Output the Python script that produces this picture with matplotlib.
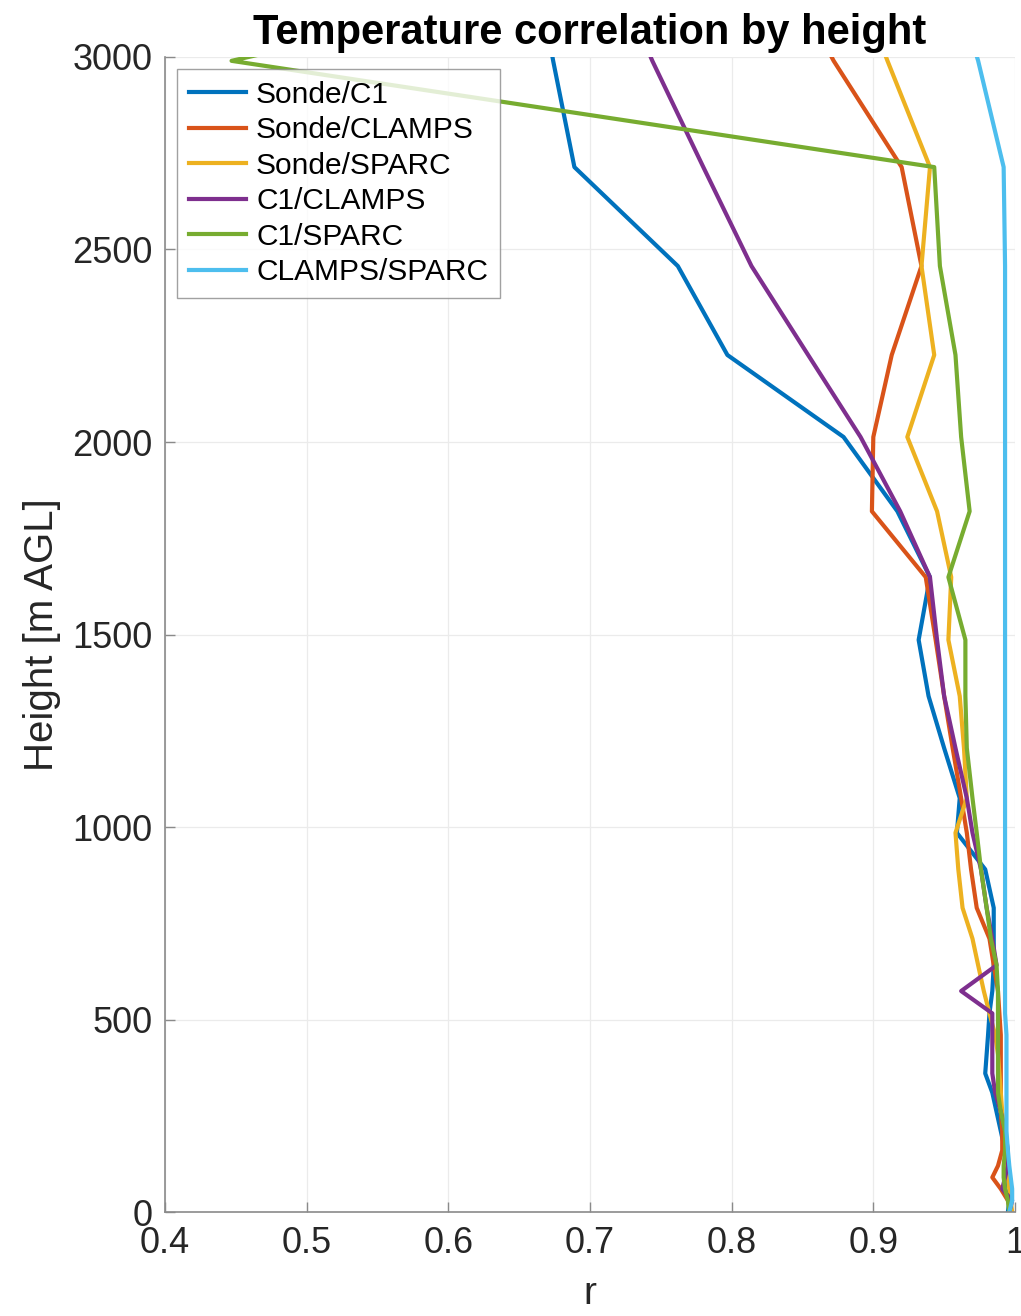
import matplotlib
matplotlib.use('Agg')
import matplotlib.pyplot as plt

plt.rcParams['font.family'] = ['Liberation Sans', 'DejaVu Sans']

# retrieval height grid [m AGL]
heights = [0, 30, 60, 90, 120, 160, 210, 260, 310, 360, 410, 460, 516, 574,
           641, 710, 790, 890, 985, 1075, 1205, 1340, 1486, 1649, 1820, 2013,
           2226, 2457, 2714, 2990, 3285]

# correlation coefficient per pair, one value per height
r_sonde_c1 = [0.995, 0.996, 0.993, 0.994, 0.995, 0.993, 0.990, 0.987, 0.984,
              0.979, 0.980, 0.981, 0.982, 0.984, 0.985, 0.985, 0.985, 0.979,
              0.959, 0.961, 0.950, 0.939, 0.932, 0.940, 0.917, 0.879, 0.797,
              0.762, 0.689, 0.674, 0.660]
r_sonde_clamps = [0.997, 0.995, 0.990, 0.984, 0.988, 0.991, 0.991, 0.990,
                  0.990, 0.990, 0.990, 0.990, 0.989, 0.988, 0.985, 0.982,
                  0.973, 0.969, 0.966, 0.962, 0.956, 0.950, 0.944, 0.937,
                  0.899, 0.900, 0.913, 0.934, 0.920, 0.872, 0.830]
r_sonde_sparc = [0.998, 0.997, 0.996, 0.995, 0.994, 0.994, 0.993, 0.991,
                 0.990, 0.989, 0.988, 0.986, 0.982, 0.978, 0.974, 0.970,
                 0.963, 0.960, 0.958, 0.966, 0.964, 0.961, 0.953, 0.955,
                 0.945, 0.924, 0.943, 0.934, 0.940, 0.910, 0.880]
r_c1_clamps = [0.996, 0.998, 0.991, 0.993, 0.995, 0.995, 0.993, 0.990, 0.986,
               0.984, 0.984, 0.984, 0.984, 0.962, 0.987, 0.984, 0.980, 0.976,
               0.970, 0.966, 0.958, 0.950, 0.945, 0.940, 0.919, 0.891, 0.854,
               0.814, 0.780, 0.744, 0.710]
r_c1_sparc = [0.996, 0.995, 0.993, 0.992, 0.992, 0.993, 0.993, 0.990, 0.988,
              0.988, 0.988, 0.988, 0.988, 0.988, 0.987, 0.983, 0.980, 0.976,
              0.973, 0.970, 0.966, 0.965, 0.965, 0.953, 0.968, 0.962, 0.958,
              0.947, 0.943, 0.447, 0.800]
r_clamps_sparc = [0.996, 0.998, 0.998, 0.997, 0.996, 0.995, 0.994, 0.994,
                  0.994, 0.994, 0.994, 0.994, 0.993, 0.993, 0.993, 0.993,
                  0.993, 0.993, 0.993, 0.993, 0.993, 0.993, 0.993, 0.993,
                  0.993, 0.993, 0.993, 0.993, 0.992, 0.974, 0.950]

pair_names = ['Sonde/C1', 'Sonde/CLAMPS', 'Sonde/SPARC', 'C1/CLAMPS',
              'C1/SPARC', 'CLAMPS/SPARC']
pair_values = [r_sonde_c1, r_sonde_clamps, r_sonde_sparc, r_c1_clamps,
               r_c1_sparc, r_clamps_sparc]
colors = ['#0072BD', '#D95319', '#EDB120', '#7E2F8E', '#77AC30', '#4DBEEE']

x_ticks = [0.4, 0.5, 0.6, 0.7, 0.8, 0.9, 1.0]
x_tick_labels = ['0.4', '0.5', '0.6', '0.7', '0.8', '0.9', '1']
y_ticks = [0, 500, 1000, 1500, 2000, 2500, 3000]

fig = plt.figure(figsize=(10.21, 13.16), dpi=100)
ax = fig.add_axes([0.1616, 0.079, 0.8325, 0.8777])

for name, values, color in zip(pair_names, pair_values, colors):
    ax.plot(values, heights, color=color, linewidth=3.0, label=name)

ax.set_xlim(0.4, 1.0)
ax.set_ylim(0, 3000)
ax.set_xticks(x_ticks)
ax.set_xticklabels(x_tick_labels)
ax.set_yticks(y_ticks)
ax.grid(True, color='#ebebeb', linewidth=0.9)
ax.set_axisbelow(True)

for side in ['top', 'right']:
    ax.spines[side].set_visible(False)
for side in ['left', 'bottom']:
    ax.spines[side].set_color('#8a8a8a')
    ax.spines[side].set_linewidth(1.2)

ax.tick_params(direction='in', length=7, width=1, color='#8a8a8a',
               labelsize=26, labelcolor='#262626')
ax.tick_params(axis='y', pad=9)
ax.tick_params(axis='x', pad=10)

ax.set_xlabel('r', fontsize=28, color='#262626', labelpad=11)
ax.set_ylabel('Height [m AGL]', fontsize=29, color='#262626', labelpad=8)
ax.set_title('Temperature correlation by height', fontsize=30,
             fontweight='bold', pad=9)

legend = ax.legend(loc='upper left', fontsize=21.5, frameon=True,
                   fancybox=False, edgecolor='#8a8a8a', handlelength=1.9,
                   handletextpad=0.35, borderpad=0.4, labelspacing=0.25,
                   borderaxespad=0.4)
legend.get_frame().set_linewidth(1.0)

fig.savefig('out.png', dpi=100, facecolor='white')
